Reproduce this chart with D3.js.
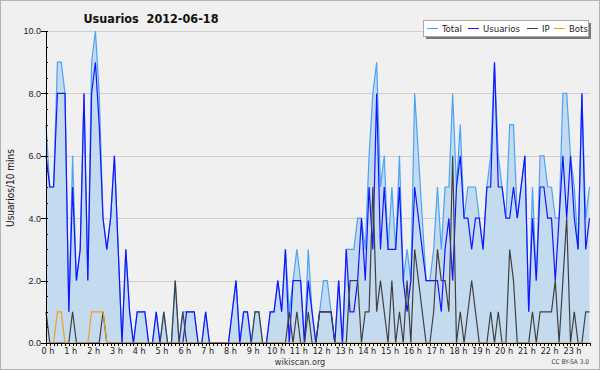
<!DOCTYPE html>
<html>
<head>
<meta charset="utf-8">
<script src="https://cdn.jsdelivr.net/npm/d3@7"></script>
<style>
  body { margin: 0; background: #fff; }
  svg { display: block; font-family: "DejaVu Sans Condensed", "DejaVu Sans", sans-serif; }
  .grid line { stroke: #cfcfcf; }
  .axis path, .axis line { stroke: #000; shape-rendering: crispEdges; }
  .axis text { fill: #222; font-size: 9px; }
</style>
</head>
<body>
<script>
var width = 600,
    height = 370;

// one value every 10 minutes, 144 slots (0:00 .. 23:50)
var total = [7,5,5,9,9,8,1,6,2,3,8,2,9,10,8,4,3,4,6,3,0,3,1,0,1,1,1,0,0,1,
  0,1,0,0,2,0,1,1,1,1,0,0,1,0,0,0,0,0,0,1,2,0,1,1,0,1,1,0,0,1,
  1,2,1,3,1,2,3,2,0,3,1,0,1,2,2,1,0,2,0,3,3,3,4,4,3,6,8,9,5,6,
  3,5,3,6,2,3,2,8,6,4,2,2,3,5,3,5,5,8,5,7,4,5,5,5,4,3,5,6,9,6,
  5,4,7,7,4,5,6,1,5,2,6,6,5,5,4,4,8,8,6,5,3,8,4,5];
var usuarios = [6,5,5,8,8,8,1,5,2,3,8,2,8,9,7,4,3,4,6,3,0,3,1,0,1,1,1,0,0,1,
  0,0,0,0,0,0,0,1,1,1,0,0,1,0,0,0,0,0,0,1,2,0,1,1,0,0,0,0,0,1,
  1,2,1,3,0,2,2,2,0,2,1,0,1,1,1,1,0,2,0,3,1,1,2,4,2,5,3,8,3,5,
  3,3,3,5,2,1,2,5,4,3,2,2,2,2,1,3,4,2,5,6,4,4,3,4,4,3,5,5,9,5,
  5,4,4,5,4,5,6,1,4,2,5,5,4,4,2,4,6,4,6,4,3,8,3,4];
var ip = [1,0,0,0,0,0,0,1,0,0,0,0,0,0,0,1,0,0,0,0,0,0,0,0,0,0,0,0,0,0,
  0,1,0,0,2,0,1,0,0,0,0,0,0,0,0,0,0,0,0,0,0,0,0,0,0,1,1,0,0,0,
  0,0,0,0,1,0,1,0,0,1,0,0,1,1,1,1,0,0,0,0,2,2,2,0,1,1,5,1,2,1,
  0,2,0,1,0,2,0,3,2,1,0,0,1,3,2,2,1,6,0,1,0,1,2,1,0,0,0,1,0,1,
  0,0,3,2,0,0,0,0,1,0,1,1,1,1,2,0,2,4,0,1,0,0,1,1];
var bots = [0,0,0,1,1,0,0,0,0,0,0,0,1,1,1,1,0,0,0,0,0,0,0,0,0,0,0,0,0,0,
  0,0,0,0,0,0,0,0,0,0,0,0,0,0,0,0,0,0,0,0,0,0,0,0,0,0,0,0,0,0,
  0,0,0,0,0,0,0,0,0,0,0,0,0,0,0,0,0,0,0,0,0,0,0,0,0,0,0,0,0,0,
  0,0,0,0,0,0,0,0,0,0,0,0,0,0,0,0,0,0,0,0,0,0,0,0,0,0,0,0,0,0,
  0,0,0,0,0,0,0,0,0,0,0,0,0,0,0,0,0,0,0,0,0,0,0,0];

var hourLabels = ["0 h","1 h","2 h","3 h","4 h","5 h","6 h","7 h","8 h","9 h","10 h","11 h",
  "12 h","13 h","14 h","15 h","16 h","17 h","18 h","19 h","20 h","21 h","22 h","23 h"];
var yTicks = [0, 2, 4, 6, 8, 10];

var series = [
  { name: "Total", values: total, color: "#4aa3f5" },
  { name: "Usuarios", values: usuarios, color: "#1414ff" },
  { name: "IP", values: ip, color: "#404040" },
  { name: "Bots", values: bots, color: "#f39c1c" }
];

var svg = d3.select("body").append("svg")
    .attr("width", width)
    .attr("height", height);

svg.append("rect")
    .attr("x", 0.5).attr("y", 0.5)
    .attr("width", width - 1).attr("height", height - 1)
    .style("fill", "#f0f0f0")
    .style("stroke", "#b4b4b4");

var x = d3.scaleLinear()
    .domain([0, total.length - 1])
    .range([46, 589.5]);

var y = d3.scaleLinear()
    .domain([0, 10])
    .range([343, 31]);

// grid
svg.append("g")
    .attr("class", "grid")
  .selectAll("line")
    .data(yTicks.slice(1))
  .enter().append("line")
    .attr("x1", x.range()[0])
    .attr("x2", 590)
    .attr("y1", function(d) { return Math.round(y(d)) + 0.5; })
    .attr("y2", function(d) { return Math.round(y(d)) + 0.5; });

var area = d3.area()
    .x(function(d, i) { return x(i); })
    .y0(y(0))
    .y1(function(d) { return y(d); });

var line = d3.line()
    .x(function(d, i) { return x(i); })
    .y(function(d) { return y(d); });

svg.append("path")
    .datum(total)
    .attr("d", area)
    .style("fill", "#c4dbef");

series.forEach(function(s) {
  svg.append("path")
      .datum(s.values)
      .attr("d", line)
      .style("fill", "none")
      .style("stroke", s.color)
      .style("stroke-width", 1.2);
});

// y axis
svg.append("g")
    .attr("class", "axis")
    .attr("transform", "translate(46,0)")
    .call(d3.axisLeft(y).tickValues(d3.range(0, 10.01, 0.5)).tickSize(-2).tickFormat(""))
    .call(function(g) { g.select(".domain").remove(); });

svg.append("g")
    .attr("class", "axis")
    .attr("transform", "translate(46,0)")
    .call(d3.axisLeft(y).tickValues(yTicks).tickSize(5).tickSizeOuter(0).tickFormat(d3.format(".1f")))
    .call(function(g) {
      g.selectAll("text").attr("x", -5).attr("dy", "0.32em");
    });

// x axis
svg.append("g")
    .attr("class", "axis")
    .attr("transform", "translate(0,343)")
    .call(d3.axisBottom(x).tickValues(d3.range(0, total.length)).tickSize(3).tickSizeOuter(0).tickFormat(""));

svg.append("line")
    .attr("x1", 46).attr("x2", 590)
    .attr("y1", 343.5).attr("y2", 343.5)
    .style("stroke", "#000");

svg.append("g")
    .attr("class", "axis")
    .selectAll("text")
    .data(hourLabels)
  .enter().append("text")
    .attr("x", function(d, i) { return x(i * 6) + 2; })
    .attr("y", 354)
    .attr("text-anchor", "middle")
    .style("font-size", "9px")
    .style("fill", "#222")
    .text(function(d) { return d; });

// titles
svg.append("text")
    .attr("x", 151)
    .attr("y", 23)
    .attr("text-anchor", "middle")
    .style("font-weight", "bold")
    .style("font-size", "12.5px")
    .style("fill", "#111")
    .attr("xml:space", "preserve")
    .text("Usuarios  2012-06-18");

svg.append("text")
    .attr("transform", "translate(14,188) rotate(-90)")
    .attr("text-anchor", "middle")
    .style("font-size", "10px")
    .style("fill", "#111")
    .text("Usuarios/10 mins");

svg.append("text")
    .attr("x", 300)
    .attr("y", 365)
    .attr("text-anchor", "middle")
    .style("font-size", "9px")
    .style("fill", "#333")
    .text("wikiscan.org");

svg.append("text")
    .attr("x", 589)
    .attr("y", 364)
    .attr("text-anchor", "end")
    .style("font-size", "6.5px")
    .style("fill", "#444")
    .text("CC BY-SA 3.0");

// legend
var legend = svg.append("g").attr("transform", "translate(423,20)");
legend.append("rect")
    .attr("x", 3).attr("y", 3)
    .attr("width", 165).attr("height", 16)
    .style("fill", "#777");
legend.append("rect")
    .attr("x", 0.5).attr("y", 0.5)
    .attr("width", 165).attr("height", 16)
    .style("fill", "#fff")
    .style("stroke", "#aaa");

var legX = [4, 45, 104, 131];
var item = legend.selectAll(".item")
    .data(series)
  .enter().append("g")
    .attr("transform", function(d, i) { return "translate(" + legX[i] + ",0)"; });

item.append("line")
    .attr("x1", 0).attr("x2", 11)
    .attr("y1", 8.5).attr("y2", 8.5)
    .style("stroke", function(d) { return d.color; });

item.append("text")
    .attr("x", 15)
    .attr("y", 12)
    .style("font-size", "9.5px")
    .style("fill", "#222")
    .text(function(d) { return d.name; });
</script>
</body>
</html>
